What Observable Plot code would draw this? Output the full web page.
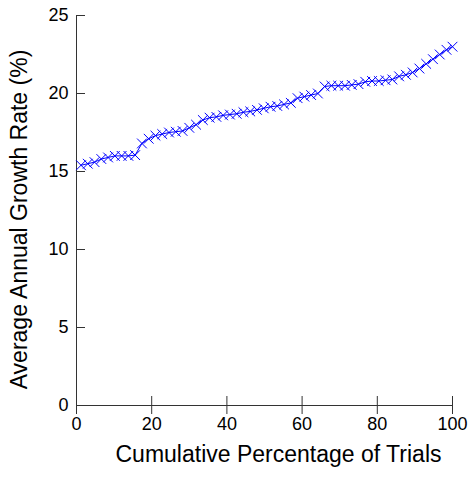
<!DOCTYPE html>
<html>
<head>
<meta charset="utf-8">
<script src="https://cdn.jsdelivr.net/npm/d3@7"></script>
<script src="https://cdn.jsdelivr.net/npm/@observablehq/plot@0.6"></script>
<style>
  html, body { margin: 0; padding: 0; background: #fff; }
</style>
</head>
<body>
<div id="chart"></div>
<script>
const cumulativePct = [1.2, 3.0, 4.8, 6.6, 8.4, 10.2, 12.0, 13.8, 15.6, 17.4,
  19.2, 21.0, 22.8, 24.6, 26.4, 28.2, 30.0, 31.8, 33.6, 35.4,
  37.2, 39.0, 40.8, 42.6, 44.4, 46.2, 48.0, 49.8, 51.6, 53.4,
  55.2, 57.0, 58.8, 60.6, 62.4, 64.2, 66.0, 67.8, 69.6, 71.4,
  73.2, 75.0, 76.8, 78.6, 80.4, 82.2, 84.0, 85.8, 87.6, 89.4,
  91.2, 93.0, 94.8, 96.6, 98.4, 100.0];
const growthRate = [15.4, 15.5, 15.6, 15.8, 15.9, 16.0, 16.0, 16.0, 16.05, 16.8,
  17.1, 17.3, 17.4, 17.5, 17.55, 17.6, 17.8, 18.0, 18.3, 18.45,
  18.5, 18.6, 18.65, 18.7, 18.8, 18.85, 18.95, 19.05, 19.15, 19.2,
  19.3, 19.4, 19.7, 19.8, 19.9, 20.0, 20.45, 20.5, 20.5, 20.5,
  20.55, 20.6, 20.75, 20.8, 20.8, 20.85, 20.9, 21.1, 21.2, 21.35,
  21.6, 21.9, 22.2, 22.5, 22.8, 23.0];
const xTicks = [0, 20, 40, 60, 80, 100];
const yTicks = [0, 5, 10, 15, 20, 25];
const xTitle = "Cumulative Percentage of Trials";
const yTitle = "Average Annual Growth Rate (%)";

const data = cumulativePct.map((x, i) => ({x, y: growthRate[i]}));
const axisColor = "#333";

const chart = Plot.plot({
  width: 468,
  height: 477,
  marginLeft: 76,
  marginRight: 16,
  marginTop: 15,
  marginBottom: 72,
  style: {fontFamily: "'Liberation Sans', Arial, sans-serif", fontSize: "18px", color: "#000", background: "#fff"},
  x: {domain: [0, 100]},
  y: {domain: [0, 25]},
  marks: [
    Plot.axisX({ticks: xTicks, tickSize: 18, dy: -9, fill: "none", stroke: axisColor, label: null}),
    Plot.axisX({ticks: xTicks, tickSize: 0, tickPadding: 12, fill: "#000", label: null, fontSize: 18}),
    Plot.axisY({ticks: yTicks, tickSize: 9, dx: 9, fill: "none", stroke: axisColor, label: null}),
    Plot.axisY({ticks: yTicks, tickSize: 0, tickPadding: 8, fill: "#000", label: null, fontSize: 18}),
    Plot.ruleY([0], {stroke: axisColor}),
    Plot.ruleX([0], {stroke: axisColor}),
    Plot.line(data, {x: "x", y: "y", stroke: "#0000ff", strokeWidth: 1}),
    Plot.dot(data, {x: "x", y: "y", symbol: "times", r: 4.5, stroke: "#0000ff", strokeWidth: 1}),
    Plot.text([xTitle], {frameAnchor: "bottom", textAnchor: "middle", lineAnchor: "middle", dy: 49, dx: 14, fontSize: 23, fill: "#000"}),
    Plot.text([yTitle], {frameAnchor: "left", textAnchor: "middle", lineAnchor: "middle", rotate: -90, dx: -57, dy: 9, fontSize: 23, fill: "#000"})
  ]
});
document.getElementById("chart").appendChild(chart);
</script>
</body>
</html>
